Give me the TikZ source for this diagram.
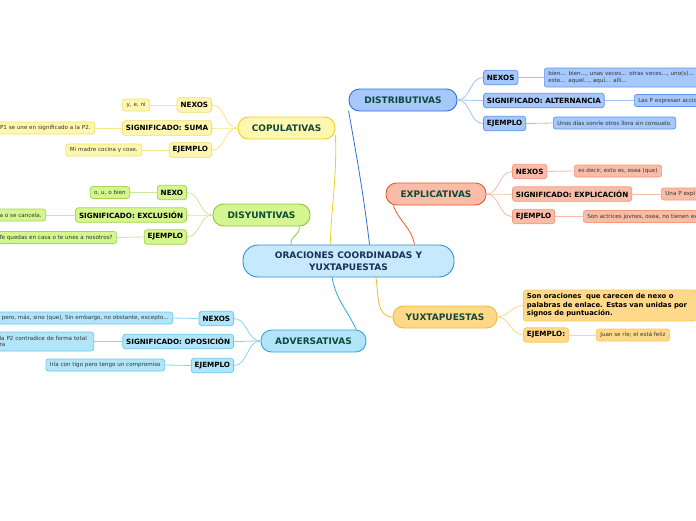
\documentclass[tikz,border=0pt]{standalone}
\usepackage{fontspec}
\setmainfont{DejaVu Sans}
\definecolor{mainfill}{HTML}{C6EAFB}
\definecolor{maindraw}{HTML}{2F8FDA}
\definecolor{maintext}{HTML}{1A2F5A}
\definecolor{brtext}{HTML}{0D4A3A}
\definecolor{yfill}{HTML}{FFF7B0}
\definecolor{ydraw}{HTML}{F2E06A}
\definecolor{yline}{HTML}{F7E58A}
\definecolor{ybrdraw}{HTML}{E9D31F}
\definecolor{gfill}{HTML}{D4F68F}
\definecolor{gdraw}{HTML}{A8D455}
\definecolor{gline}{HTML}{C9E89A}
\definecolor{gbrdraw}{HTML}{8CC63E}
\definecolor{cfill}{HTML}{B3E5FA}
\definecolor{cdraw}{HTML}{6CC8EE}
\definecolor{cline}{HTML}{8AD3F2}
\definecolor{cbrdraw}{HTML}{2DA8E0}
\definecolor{bfill}{HTML}{A6C8FC}
\definecolor{bdraw}{HTML}{5E95EE}
\definecolor{bline}{HTML}{A4C3F5}
\definecolor{bbrdraw}{HTML}{2F6FDB}
\definecolor{ofill}{HTML}{F9BCA8}
\definecolor{odraw}{HTML}{F29A7C}
\definecolor{oline}{HTML}{F8BBA5}
\definecolor{obrdraw}{HTML}{EE5A24}
\definecolor{afill}{HTML}{FFD98A}
\definecolor{adraw}{HTML}{F9C85C}
\definecolor{aline}{HTML}{FBD88A}
\definecolor{abrdraw}{HTML}{F5B731}
\tikzset{
  mainbox/.style={draw=maindraw, fill=mainfill, line width=0.9pt, rounded corners=15pt,
    font=\bfseries\fontsize{9}{11.5}\selectfont, text=maintext, align=center,
    minimum width=211pt, minimum height=32pt, inner sep=2pt},
  branchbox/.style={line width=0.9pt, rounded corners=10.5pt, font=\bfseries\fontsize{9}{10}\selectfont,
    text=brtext, minimum height=22pt, inner xsep=8pt, inner ysep=2pt},
  subbox/.style={line width=0.8pt, rounded corners=3pt, font=\bfseries\fontsize{7.2}{8.2}\selectfont,
    text=black, minimum height=14.5pt, inner xsep=3.5pt, inner ysep=1.5pt},
  leafbox/.style={line width=0.7pt, rounded corners=2.5pt, font=\fontsize{5.6}{6.4}\selectfont,
    text=black!80, minimum height=12pt, inner xsep=4pt, inner ysep=1.5pt, align=left},
  ysub/.style={subbox, fill=yfill, draw=ydraw},
  yleaf/.style={leafbox, fill=yfill, draw=ydraw},
  gsub/.style={subbox, fill=gfill, draw=gdraw},
  gleaf/.style={leafbox, fill=gfill, draw=gdraw},
  csub/.style={subbox, fill=cfill, draw=cdraw},
  cleaf/.style={leafbox, fill=cfill, draw=cdraw},
  bsub/.style={subbox, fill=bfill, draw=bdraw},
  bleaf/.style={leafbox, fill=bfill, draw=bdraw},
  osub/.style={subbox, fill=ofill, draw=odraw},
  oleaf/.style={leafbox, fill=ofill, draw=odraw},
  asub/.style={subbox, fill=afill, draw=adraw},
  aleaf/.style={leafbox, fill=afill, draw=adraw},
  conn/.style={line width=0.8pt},
}
\begin{document}
\begin{tikzpicture}[x=1pt, y=-1pt]
\useasboundingbox (0,0) rectangle (696,520);
\clip (0,0) rectangle (696,520);
\fill[white] (0,0) rectangle (696,520);

% main
\node[mainbox] (main) at (348.5,261) {ORACIONES COORDINADAS Y\\YUXTAPUESTAS};

% branches
\node[branchbox, fill=yfill, draw=ybrdraw, minimum width=97pt] (cop) at (286.5,128) {COPULATIVAS};
\node[branchbox, fill=gfill, draw=gbrdraw, minimum width=97pt] (dis) at (261.5,215) {DISYUNTIVAS};
\node[branchbox, fill=cfill, draw=cbrdraw, minimum width=105pt] (adv) at (313.5,341) {ADVERSATIVAS};
\node[branchbox, fill=bfill, draw=bbrdraw, minimum width=108pt] (dst) at (403,100) {DISTRIBUTIVAS};
\node[branchbox, fill=ofill, draw=obrdraw, minimum width=100pt] (exp) at (436,194) {EXPLICATIVAS};
\node[branchbox, fill=afill, draw=abrdraw, minimum width=104pt] (yux) at (445,317) {YUXTAPUESTAS};

% main -> branch connectors
\draw[conn, draw=ybrdraw] (main.138) to[out=88,in=-88] (cop.-8);
\draw[conn, draw=gbrdraw] (main.164.6) to[out=105,in=-70] (dis.-17);
\draw[conn, draw=bbrdraw] (main.38.7) to[out=97,in=-80] (dst.191);
\draw[conn, draw=obrdraw] (main.14.7) to[out=100,in=-70] (exp.195);
\draw[conn, draw=cbrdraw] (main.225) to[out=-80,in=115] (adv.15.4);
\draw[conn, draw=abrdraw] (main.329.4) to[out=-80,in=180] (yux.west);

% COPULATIVAS
\node[ysub, anchor=east] (copnex) at (212,105) {NEXOS};
\node[ysub, anchor=east] (copsig) at (212,128) {SIGNIFICADO: SUMA};
\node[ysub, anchor=east] (copej) at (212,150) {EJEMPLO};
\node[yleaf, anchor=east] (copnexl) at (150,105) {y, e, ni};
\node[yleaf, anchor=east] (copsigl) at (95,128) {P1 se une en significado a la P2.};
\node[yleaf, anchor=east] (copejl) at (142,150) {Mi madre cocina y cose.};
\foreach \s in {copnex,copsig,copej} \draw[conn, draw=yline] (cop.west) to[out=180,in=0] (\s.east);
\draw[conn, draw=yline] (copnex.west) -- (copnexl.east);
\draw[conn, draw=yline] (copsig.west) -- (copsigl.east);
\draw[conn, draw=yline] (copej.west) -- (copejl.east);

% DISYUNTIVAS
\node[gsub, anchor=east] (disnex) at (187,192.5) {NEXO};
\node[gsub, anchor=east] (dissig) at (187,215) {SIGNIFICADO: EXCLUSIÓN};
\node[gsub, anchor=east] (disej) at (187,237) {EJEMPLO};
\node[gleaf, anchor=east] (disnexl) at (130,192.5) {o, u, o bien};
\node[gleaf, anchor=east] (dissigl) at (46,215) {a o se cancela.};
\node[gleaf, anchor=east] (disejl) at (117,237.5) {¿Te quedas en casa o te unes a nosotros?};
\foreach \s in {disnex,dissig,disej} \draw[conn, draw=gline] (dis.west) to[out=180,in=0] (\s.east);
\draw[conn, draw=gline] (disnex.west) -- (disnexl.east);
\draw[conn, draw=gline] (dissig.west) -- (dissigl.east);
\draw[conn, draw=gline] (disej.west) -- (disejl.east);

% ADVERSATIVAS
\node[csub, anchor=east] (advnex) at (234,318.5) {NEXOS};
\node[csub, anchor=east] (advsig) at (234,341.5) {SIGNIFICADO: OPOSICIÓN};
\node[csub, anchor=east] (advej) at (234,365.5) {EJEMPLO};
\node[cleaf, anchor=east] (advnexl) at (173,318) {pero, más, sino (que), Sin embargo, no obstante, excepto...};
\node[cleaf, anchor=east, text width=90pt, minimum height=19pt] (advsigl) at (94,341.5) {la P2 contradice de forma total\\ra};
\node[cleaf, anchor=east] (advejl) at (165,365) {Iría con tigo pero tengo un compromiso};
\foreach \s in {advnex,advsig,advej} \draw[conn, draw=cline] (adv.west) to[out=180,in=0] (\s.east);
\draw[conn, draw=cline] (advnex.west) -- (advnexl.east);
\draw[conn, draw=cline] (advsig.west) -- (advsigl.east);
\draw[conn, draw=cline] (advej.west) -- (advejl.east);

% DISTRIBUTIVAS
\node[bsub, anchor=west] (dstnex) at (483,77.5) {NEXOS};
\node[bsub, anchor=west] (dstsig) at (483,100.5) {SIGNIFICADO: ALTERNANCIA};
\node[bsub, anchor=west] (dstej) at (483,123.5) {EJEMPLO};
\node[bleaf, anchor=west, text width=190pt, minimum height=19pt] (dstnexl) at (544,77.5) {bien... bien..., unas veces... otras veces..., uno(s)... -\\este... aquel..., aquí... allí...};
\node[bleaf, anchor=west, text width=80pt] (dstsigl) at (634,100.5) {Las P expresan accio};
\node[bleaf, anchor=west] (dstejl) at (553,123) {Unos días sonríe otros llora sin consuelo.};
\foreach \s in {dstnex,dstsig,dstej} \draw[conn, draw=bline] (dst.east) to[out=0,in=180] (\s.west);
\draw[conn, draw=bline] (dstnex.east) -- (dstnexl.west);
\draw[conn, draw=bline] (dstsig.east) -- (dstsigl.west);
\draw[conn, draw=bline] (dstej.east) -- (dstejl.west);

% EXPLICATIVAS
\node[osub, anchor=west] (expnex) at (512,171.5) {NEXOS};
\node[osub, anchor=west] (expsig) at (512,194) {SIGNIFICADO: EXPLICACIÓN};
\node[osub, anchor=west] (expej) at (512,216.5) {EJEMPLO};
\node[oleaf, anchor=west] (expnexl) at (574,171) {es decir, esto es, osea (que)};
\node[oleaf, anchor=west, text width=60pt] (expsigl) at (661,194) {Una P expl};
\node[oleaf, anchor=west, text width=150pt] (expejl) at (583,216.5) {Son actrices jovnes, osea, no tienen ex};
\foreach \s in {expnex,expsig,expej} \draw[conn, draw=oline] (exp.east) to[out=0,in=180] (\s.west);
\draw[conn, draw=oline] (expnex.east) -- (expnexl.west);
\draw[conn, draw=oline] (expsig.east) -- (expsigl.west);
\draw[conn, draw=oline] (expej.east) -- (expejl.west);

% YUXTAPUESTAS
\node[asub, anchor=west, align=left, text width=166pt, font=\bfseries\fontsize{6.9}{8.4}\selectfont, minimum height=31pt, inner ysep=2pt] (yuxdef) at (523,305.5) {Son oraciones \ que carecen de nexo o\\palabras de enlace. Estas van unidas por\\signos de puntuación.};
\node[asub, anchor=west] (yuxej) at (523,335) {EJEMPLO:};
\node[aleaf, anchor=west] (yuxejl) at (596,335) {Juan se ríe; el está feliz};
\foreach \s in {yuxdef,yuxej} \draw[conn, draw=aline] (yux.east) to[out=0,in=180] (\s.west);
\draw[conn, draw=aline] (yuxej.east) -- (yuxejl.west);
\end{tikzpicture}
\end{document}
